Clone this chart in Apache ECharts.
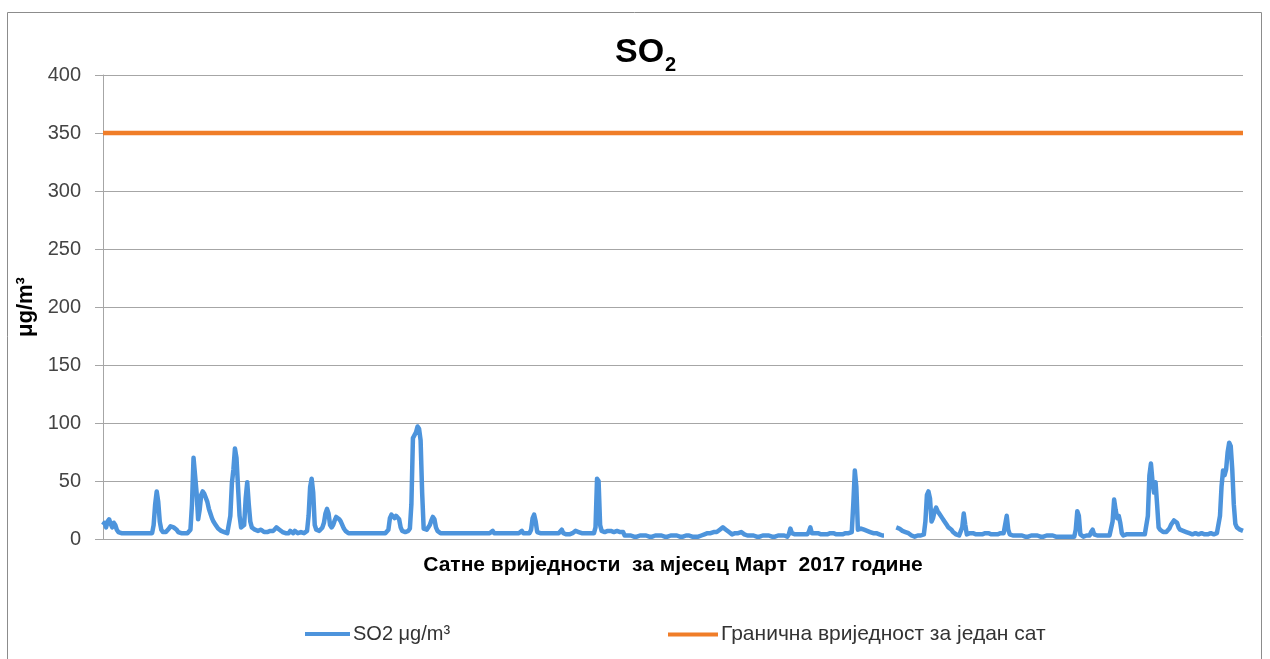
<!DOCTYPE html>
<html>
<head>
<meta charset="utf-8">
<script src="https://cdn.jsdelivr.net/npm/echarts@6/dist/echarts.min.js"></script>
<style>
  html, body { margin: 0; padding: 0; background: #ffffff; }
  #chart { width: 1270px; height: 659px; }
</style>
</head>
<body>
<div id="chart"></div>
<script>
// satne vrijednosti SO2 za mart 2017, jedan red = jedan dan (24 sata)
var so2Values = [
  12,14,10,15,17,13,10,14,12,8,6,5,5,5,5,5,5,5,5,5,5,5,5,5,
  5,5,5,5,5,5,5,5,5,12,30,41,32,15,8,6,5,6,7,9,11,11,10,11,
  8,6,5,5,5,5,5,5,6,8,30,70,71,40,17,25,38,41,39,38,32,26,22,18,
  15,13,11,9,8,7,7,6,5,5,6,20,48,60,78,70,45,20,10,9,12,35,49,30,
  15,10,9,8,8,7,7,8,7,6,6,6,7,7,6,7,8,10,11,8,7,6,6,5,
  6,5,7,6,5,7,6,5,5,6,5,5,5,7,20,45,52,40,12,8,7,7,8,10,
  14,22,26,22,12,10,12,16,19,19,17,15,12,9,7,6,5,5,5,5,5,5,5,5,
  5,5,5,5,5,5,5,5,5,5,5,5,5,5,5,5,5,5,8,18,21,20,18,20,
  21,17,10,7,7,6,6,7,9,30,87,88,92,97,95,85,40,9,8,8,9,12,16,19,
  17,10,7,6,5,5,5,5,5,5,5,5,5,5,5,5,5,5,5,5,5,5,5,5,
  5,5,5,5,5,5,5,5,5,5,5,5,5,5,7,5,5,5,5,5,5,5,5,5,
  5,5,5,5,5,5,5,5,5,7,5,5,5,5,5,8,18,21,15,6,5,5,5,5,
  5,5,5,5,5,5,5,5,5,5,5,8,5,5,4,3,4,5,5,6,7,7,6,5,
  5,5,5,5,5,5,5,5,5,10,52,50,12,7,7,6,7,7,6,7,7,6,7,7,
  7,6,7,6,3,2,3,2,3,3,2,3,2,3,3,2,3,2,3,3,2,3,2,3,
  3,2,3,2,3,3,2,3,2,3,3,2,3,2,3,3,2,3,2,3,3,2,3,2,
  2,3,2,3,2,3,3,2,4,5,5,4,5,5,6,5,6,7,8,9,10,9,8,7,
  6,5,4,5,5,6,5,5,6,5,4,4,3,2,3,2,3,3,2,3,2,3,3,2,
  3,2,3,3,2,3,2,3,3,2,3,2,3,3,2,4,9,5,4,4,4,4,4,4,
  4,4,3,4,6,10,5,4,5,4,5,4,4,5,4,5,4,4,5,4,5,4,4,5,
  4,5,4,4,5,4,5,4,6,30,59,45,8,9,9,8,8,7,7,6,6,5,5,5,
  5,4,4,4,3,3,null,null,null,null,null,null,null,10,9,9,8,7,7,6,5,5,4,3,
  3,2,2,3,3,3,3,4,15,38,41,35,15,18,24,27,24,22,21,18,16,14,12,10,
  9,8,6,5,4,3,3,4,10,22,12,4,4,5,4,5,4,4,5,4,5,4,4,5,
  4,5,4,4,5,4,5,4,4,5,4,5,5,20,8,4,3,3,3,3,3,3,3,3,
  3,2,3,2,3,3,2,3,2,3,3,2,3,2,3,3,2,3,2,3,3,2,3,2,
  2,2,2,2,2,2,2,2,2,2,8,24,20,4,3,2,2,3,3,3,6,8,4,3,
  3,3,3,3,3,3,3,3,3,3,15,34,25,18,20,14,5,3,4,4,4,4,4,4,
  4,4,4,4,4,4,4,4,5,20,55,65,50,40,49,30,10,8,7,6,6,6,7,9,
  12,14,16,16,14,10,8,7,7,7,6,6,5,5,4,4,5,4,4,4,5,4,4,4,
  4,4,5,4,4,5,5,6,20,45,59,55,60,75,83,80,60,30,13,10,9,8,8,7
];
var limitValue = 350;
var yTicks = [0, 50, 100, 150, 200, 250, 300, 350, 400];
var so2Name = 'SO2 μg/m³';
var limitName = 'Гранична вриједност за један сат';

var hours = so2Values.map(function (v, i) { return i + 1; });
var limitValues = hours.map(function () { return limitValue; });

var blue = '#4d94dc';
var orange = '#f07d28';
var gridGray = '#a6a6a6';
var textFont = 'Liberation Sans, Arial, sans-serif';

var chart = echarts.init(document.getElementById('chart'));

var option = {
  backgroundColor: '#ffffff',
  animation: false,
  title: {
    text: '{a|SO}{b|2}',
    left: 610,
    top: 31,
    textStyle: {
      rich: {
        a: { fontSize: 34, fontWeight: 'bold', color: '#000', fontFamily: textFont, lineHeight: 36, verticalAlign: 'top' },
        b: { fontSize: 20, fontWeight: 'bold', color: '#000', fontFamily: textFont, lineHeight: 20, padding: [19, 0, 0, 1], verticalAlign: 'top' }
      }
    }
  },
  legend: [
    {
      data: [so2Name],
      left: 300,
      top: 619,
      icon: 'rect',
      itemWidth: 45,
      itemHeight: 4,
      itemGap: 4,
      textStyle: { fontSize: 20, color: '#333', fontFamily: textFont, padding: [0, 0, 0, -2] }
    },
    {
      data: [limitName],
      left: 663,
      top: 619,
      icon: 'rect',
      itemWidth: 50,
      itemHeight: 4,
      textStyle: { fontSize: 21, color: '#333', fontFamily: textFont, padding: [0, 0, 0, -2] }
    }
  ],
  grid: { left: 103, right: 27, top: 75, bottom: 120, containLabel: false },
  xAxis: {
    type: 'category',
    data: hours,
    boundaryGap: false,
    name: 'Сатне вриједности  за мјесец Март  2017 године',
    nameLocation: 'middle',
    nameGap: 16,
    nameTextStyle: { fontSize: 21, fontWeight: 'bold', color: '#000', fontFamily: textFont },
    axisLine: { lineStyle: { color: gridGray, width: 1 } },
    axisTick: { show: false },
    axisLabel: { show: false },
    splitLine: { show: false }
  },
  yAxis: {
    type: 'value',
    min: yTicks[0],
    max: yTicks[yTicks.length - 1],
    interval: yTicks[1] - yTicks[0],
    name: 'μg/m³',
    nameLocation: 'middle',
    nameGap: 64,
    nameTextStyle: { fontSize: 22, fontWeight: 'bold', color: '#000', fontFamily: textFont },
    axisLine: { show: true, lineStyle: { color: gridGray, width: 1 } },
    axisTick: { show: true, length: 8, lineStyle: { color: gridGray } },
    axisLabel: { fontSize: 20, color: '#444', margin: 22, fontFamily: textFont },
    splitLine: { show: true, lineStyle: { color: gridGray, width: 1 } }
  },
  graphic: [
    {
      type: 'rect',
      shape: { x: 7.5, y: 12.5, width: 1254, height: 660 },
      style: { fill: 'none', stroke: '#8c8c8c', lineWidth: 1 },
      silent: true
    }
  ],
  series: [
    {
      name: so2Name,
      type: 'line',
      data: so2Values,
      showSymbol: false,
      connectNulls: false,
      lineStyle: { color: blue, width: 4.5, join: 'round' },
      itemStyle: { color: blue },
      z: 3
    },
    {
      name: limitName,
      type: 'line',
      data: limitValues,
      showSymbol: false,
      lineStyle: { color: orange, width: 4.5 },
      itemStyle: { color: orange },
      z: 2
    }
  ]
};

chart.setOption(option);
</script>
</body>
</html>
